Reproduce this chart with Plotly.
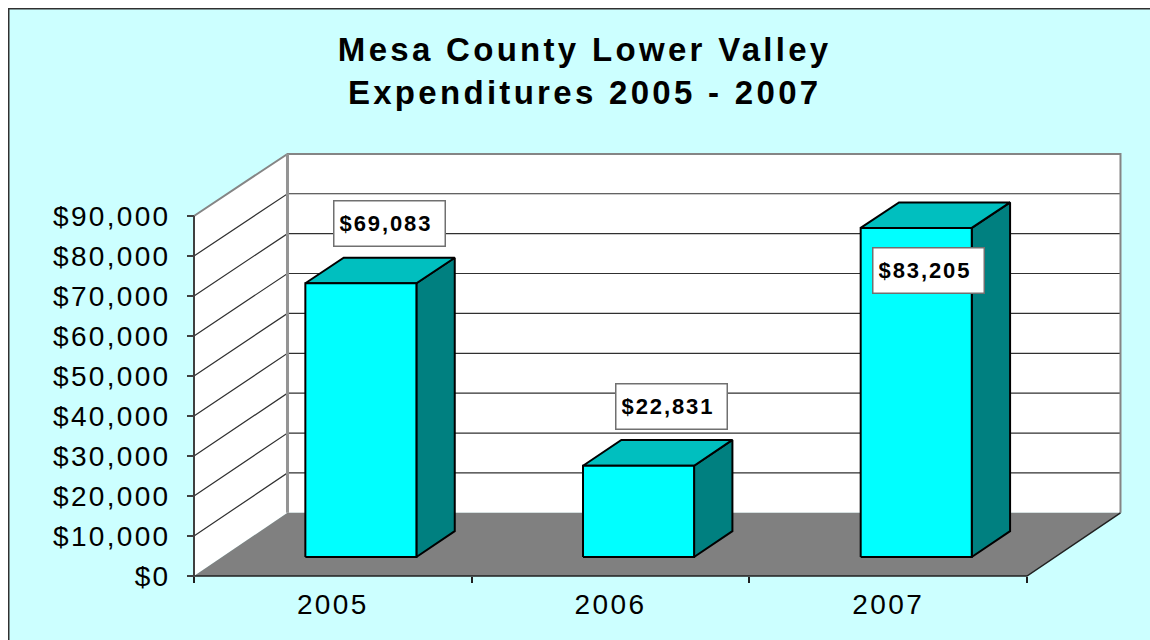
import plotly.graph_objects as go

# ---- data ----
categories = ["2005", "2006", "2007"]
bar_heights = [68500, 22850, 82350]          # height of each drawn column
bar_labels = ["$69,083", "$22,831", "$83,205"]  # printed data labels
y_ticks = [0, 10000, 20000, 30000, 40000, 50000, 60000, 70000, 80000, 90000]
y_tick_text = ["$0", "$10,000", "$20,000", "$30,000", "$40,000", "$50,000",
               "$60,000", "$70,000", "$80,000", "$90,000"]
label_x = [0.205, 1.219, 2.146]
label_y = [88125, 42500, 76500]
title_text = "Mesa County Lower Valley<br>Expenditures 2005 - 2007"

# ---- oblique 3-D look, in axis units ----
DEPTH_X = 0.3367      # category units from the front plane to the back wall
DEPTH_Y = 15800       # value units from the front plane to the back wall
DEPTH_SHRINK = 0.003  # the back wall is very slightly shorter than the front plane
BAR_D0, BAR_D1 = 0.30, 0.71
BAR_HALF = 0.20
X0, X1 = -0.5, 2.5
Y_MAX = 90000


def P(x, y, d):
    return x + d * DEPTH_X, y + d * (DEPTH_Y - DEPTH_SHRINK * y)


def poly(points, fill=None, line="black", width=1):
    xs, ys = zip(*[P(*p) for p in points])
    return go.Scatter(
        x=list(xs), y=list(ys), mode="lines",
        fill="toself" if fill else "none", fillcolor=fill,
        line=dict(color=line, width=width),
        hoverinfo="skip", showlegend=False,
    )


fig = go.Figure()

# walls
fig.add_trace(poly([(X0, 0, 0), (X0, Y_MAX, 0), (X0, Y_MAX, 1), (X0, 0, 1), (X0, 0, 0)], "white", "rgba(0,0,0,0)", 0))
fig.add_trace(poly([(X0, 0, 1), (X0, Y_MAX, 1), (X1, Y_MAX, 1), (X1, 0, 1), (X0, 0, 1)], "white", "rgba(0,0,0,0)", 0))

# gridlines
for v in y_ticks[1:-1]:
    fig.add_trace(poly([(X0, v, 0), (X0, v, 1), (X1, v, 1)], None, "#303030", 1.2))
fig.add_trace(poly([(X0, Y_MAX, 0), (X0, Y_MAX, 1), (X1, Y_MAX, 1), (X1, 0, 1)], None, "#858585", 2))
fig.add_trace(poly([(X0, 0, 1), (X0, Y_MAX, 1)], None, "#949494", 3))

# floor
fig.add_trace(poly([(X0, 0, 0), (X1, 0, 0), (X1, 0, 1), (X0, 0, 1), (X0, 0, 0)], "#808080", "rgba(0,0,0,0)", 0))
fig.add_trace(poly([(X1, 0, 1), (X1, 0, 0), (X0, 0, 0)], None, "#202020", 1.5))

# columns
for i, h in enumerate(bar_heights):
    l, r = i - BAR_HALF, i + BAR_HALF
    fig.add_trace(poly([(r, 0, BAR_D0), (r, 0, BAR_D1), (r, h, BAR_D1), (r, h, BAR_D0), (r, 0, BAR_D0)], "#008080", "black", 2))
    fig.add_trace(poly([(l, h, BAR_D0), (r, h, BAR_D0), (r, h, BAR_D1), (l, h, BAR_D1), (l, h, BAR_D0)], "#00BFBF", "black", 2))
    fig.add_trace(poly([(l, 0, BAR_D0), (r, 0, BAR_D0), (r, h, BAR_D0), (l, h, BAR_D0), (l, 0, BAR_D0)], "#00FFFF", "black", 2))

# value axis spine
fig.add_trace(poly([(X0, 0, 0), (X0, Y_MAX, 0)], None, "#404040", 2))

annotations = [
    dict(x=lx, y=ly, xref="x", yref="y", text=f"<b>{t}</b>", showarrow=False,
         font=dict(family="Liberation Sans", size=22, color="black"),
         bgcolor="white", bordercolor="#707070", borderwidth=1.5,
         width=100, height=34, align="left", borderpad=5,
         xanchor="center", yanchor="middle")
    for lx, ly, t in zip(label_x, label_y, bar_labels)
]

W_PX, H_PX = 946, 442
fig.update_layout(
    width=1142, height=632, autosize=False,
    margin=dict(l=176, r=20, t=136, b=54, pad=0),
    paper_bgcolor="#CCFFFF", plot_bgcolor="rgba(0,0,0,0)",
    showlegend=False,
    font=dict(family="Liberation Sans", color="black"),
    title=dict(text=f"<b>{title_text}</b>", x=0.505, xanchor="center",
               y=0.916, yanchor="top",
               font=dict(family="Liberation Sans", size=33, color="black")),
    annotations=annotations,
    xaxis=dict(
        range=[X0 - 10 / 277.67, X1 + 103 / 277.67],
        tickmode="array", tickvals=[0, 1, 2], ticktext=categories,
        ticks="", showgrid=False, zeroline=False, showline=False,
        anchor="free", position=10 / H_PX,
        tickfont=dict(family="Liberation Sans", size=28, color="black"),
        ticklabelstandoff=9,
        minor=dict(tickmode="array", tickvals=[-0.5, 0.5, 1.5, 2.5], ticks="outside",
                   ticklen=6, tickwidth=1.5, tickcolor="#202020", showgrid=False),
    ),
    yaxis=dict(
        range=[-2500, 108000],
        tickmode="array", tickvals=y_ticks, ticktext=y_tick_text,
        ticks="outside", ticklen=7, tickwidth=1.5, tickcolor="#404040",
        showgrid=False, zeroline=False, showline=False,
        anchor="free", position=10 / W_PX,
        tickfont=dict(family="Liberation Sans", size=28, color="black"),
        ticklabelstandoff=11,
    ),
    shapes=[
        dict(type="line", xref="paper", yref="paper", x0=-176 / W_PX, x1=-176 / W_PX, y0=-54 / H_PX, y1=(H_PX + 136) / H_PX,
             line=dict(color="#303030", width=3), layer="above"),
        dict(type="line", xref="paper", yref="paper", x0=-176 / W_PX, x1=(W_PX + 20) / W_PX, y0=(H_PX + 136) / H_PX, y1=(H_PX + 136) / H_PX,
             line=dict(color="#303030", width=3), layer="above"),
    ],
)

post = """
document.documentElement.style.overflow='hidden';
document.body.style.overflow='visible';
document.body.style.width='1200px';
document.body.style.height='700px';
var set=function(q,s){document.querySelectorAll(q).forEach(function(e){e.style.letterSpacing=s;});};
set('.gtitle','3.3px');
set('.xtick text','2.4px');
set('.ytick text','2.3px');
set('.annotation-text','1.9px');
"""
fig.write_html("out.html", post_script=post, default_width="1142px", default_height="632px")
